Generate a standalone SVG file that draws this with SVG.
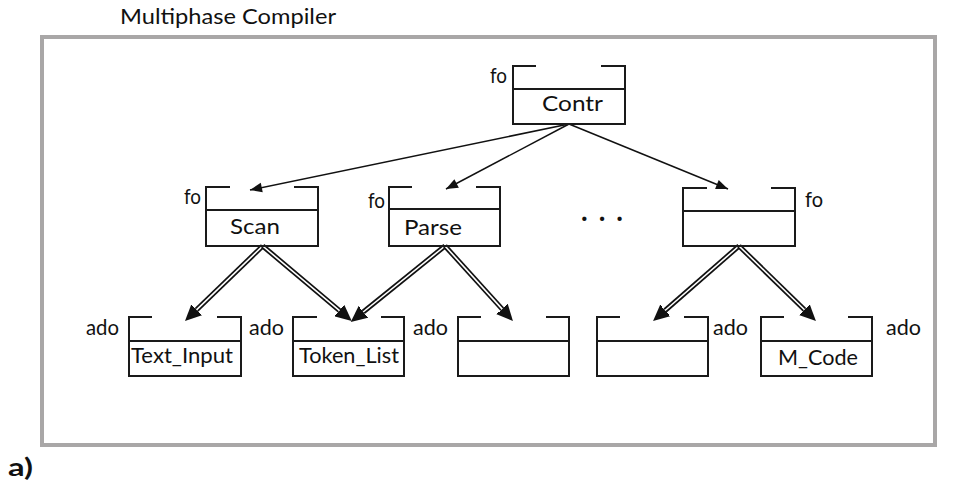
<svg xmlns="http://www.w3.org/2000/svg" width="978" height="485" viewBox="0 0 978 485">
  <defs>
    <style>
      text { font-family: Lato, "Open Sans", "Liberation Sans", sans-serif; fill: #111; }
      .lbl { font-size: 22px; }
      .box { fill: none; stroke: #1a1a1a; stroke-width: 2; }
      .frame { fill: none; stroke: #a9a7a7; stroke-width: 4; }
      .single { fill: none; stroke: #111; stroke-width: 1.5; marker-end: url(#head); }
      .dbl-out { fill: none; stroke: #111; stroke-width: 5; marker-end: url(#fathead); }
      .dbl-in { fill: none; stroke: #fff; stroke-width: 1.6; }
    </style>
    <marker id="head" viewBox="-13 -6 14 12" refX="0" refY="0" markerWidth="14" markerHeight="12" markerUnits="userSpaceOnUse" orient="auto">
      <path d="M-12,-4.8 L0,0 L-12,4.8 z" fill="#111"/>
    </marker>
    <marker id="fathead" viewBox="0 -9 18 18" refX="0" refY="0" markerWidth="18" markerHeight="18" markerUnits="userSpaceOnUse" orient="auto">
      <path d="M-1,-8 L16,0 L-1,8 z" fill="#111"/>
    </marker>
  </defs>

  <rect width="978" height="485" fill="#fff"/>

  <!-- outer frame and captions -->
  <text x="120" y="24" font-size="22" textLength="216" lengthAdjust="spacingAndGlyphs">Multiphase Compiler</text>
  <rect class="frame" x="42" y="37" width="893" height="408"/>
  <text x="8" y="476" font-size="24" font-weight="bold" textLength="25" lengthAdjust="spacingAndGlyphs">a)</text>

  <!-- connectors -->
  <g id="connectors">
    <line class="single" x1="569" y1="124" x2="250" y2="190"/>
    <line class="single" x1="569" y1="124" x2="446" y2="189"/>
    <line class="single" x1="569" y1="124" x2="728" y2="189"/>

    <line class="dbl-out" x1="262.7" y1="246" x2="196.5" y2="309.9"/>
    <line class="dbl-in" x1="262.7" y1="246" x2="196.5" y2="309.9"/>
    <line class="dbl-out" x1="262.7" y1="246" x2="339.5" y2="310.7"/>
    <line class="dbl-in" x1="262.7" y1="246" x2="339.5" y2="310.7"/>

    <line class="dbl-out" x1="445" y1="246" x2="363.2" y2="312.0"/>
    <line class="dbl-in" x1="445" y1="246" x2="363.2" y2="312.0"/>
    <line class="dbl-out" x1="445" y1="246" x2="502.2" y2="309.1"/>
    <line class="dbl-in" x1="445" y1="246" x2="502.2" y2="309.1"/>

    <line class="dbl-out" x1="739" y1="246" x2="665.1" y2="310.5"/>
    <line class="dbl-in" x1="739" y1="246" x2="665.1" y2="310.5"/>
    <line class="dbl-out" x1="739" y1="246" x2="804.5" y2="309.8"/>
    <line class="dbl-in" x1="739" y1="246" x2="804.5" y2="309.8"/>
  </g>

  <!-- top level -->
  <g id="contr">
    <path class="box" d="M536,66 H513 V124 H625 V66 H601 M513,89 H625"/>
    <text class="lbl" x="490" y="83" textLength="17" lengthAdjust="spacingAndGlyphs">fo</text>
    <text class="lbl" x="542" y="111" textLength="61" lengthAdjust="spacingAndGlyphs">Contr</text>
  </g>

  <!-- middle level -->
  <g id="scan">
    <path class="box" d="M230,187 H206 V246 H318 V187 H294 M206,210 H318"/>
    <text class="lbl" x="184" y="204" textLength="17" lengthAdjust="spacingAndGlyphs">fo</text>
    <text class="lbl" x="230" y="234" textLength="50" lengthAdjust="spacingAndGlyphs">Scan</text>
  </g>
  <g id="parse">
    <path class="box" d="M412,187 H389 V246 H500 V187 H476 M389,209 H500"/>
    <text class="lbl" x="368" y="208" textLength="17" lengthAdjust="spacingAndGlyphs">fo</text>
    <text class="lbl" x="404" y="235" textLength="58" lengthAdjust="spacingAndGlyphs">Parse</text>
  </g>
  <g id="ellipsis">
    <text x="581" y="221" font-size="28" font-weight="bold" textLength="42" lengthAdjust="spacing">. . .</text>
  </g>
  <g id="phase-n">
    <path class="box" d="M707,188 H683 V246 H795 V188 H771 M683,211 H795"/>
    <text class="lbl" x="805" y="207" textLength="18" lengthAdjust="spacingAndGlyphs">fo</text>
  </g>

  <!-- bottom level -->
  <g id="text-input">
    <path class="box" d="M152,317 H129 V376 H241 V317 H217 M129,341 H241"/>
    <text class="lbl" x="86" y="335" textLength="33" lengthAdjust="spacingAndGlyphs">ado</text>
    <text class="lbl" x="131" y="363" textLength="102" lengthAdjust="spacingAndGlyphs">Text_Input</text>
  </g>
  <g id="token-list">
    <path class="box" d="M317,317 H293 V376 H404 V317 H381 M293,341 H404"/>
    <text class="lbl" x="249" y="335" textLength="35" lengthAdjust="spacingAndGlyphs">ado</text>
    <text class="lbl" x="299" y="363" textLength="100" lengthAdjust="spacingAndGlyphs">Token_List</text>
  </g>
  <g id="data-3">
    <path class="box" d="M481,317 H458 V376 H569 V317 H546 M458,341 H569"/>
    <text class="lbl" x="413" y="335" textLength="35" lengthAdjust="spacingAndGlyphs">ado</text>
  </g>
  <g id="data-4">
    <path class="box" d="M620,317 H597 V376 H708 V317 H684 M597,341 H708"/>
    <text class="lbl" x="713" y="335" textLength="35" lengthAdjust="spacingAndGlyphs">ado</text>
  </g>
  <g id="m-code">
    <path class="box" d="M784,317 H761 V376 H872 V317 H848 M761,341 H872"/>
    <text class="lbl" x="778" y="365" textLength="80" lengthAdjust="spacingAndGlyphs">M_Code</text>
    <text class="lbl" x="886" y="335" textLength="35" lengthAdjust="spacingAndGlyphs">ado</text>
  </g>
</svg>
